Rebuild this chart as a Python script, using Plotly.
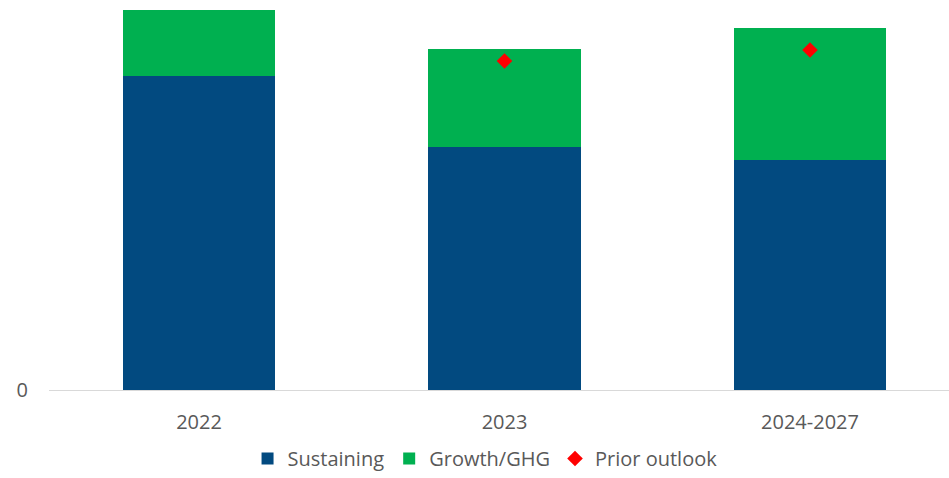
import plotly.graph_objects as go

categories = ["2022", "2023", "2024-2027"]
sustaining = [314, 243, 230]
growth_ghg = [66, 98, 132]
prior_outlook = [None, 329, 340]

xpos = [0, 1, 2]
font_family = "Open Sans"
grey = "#595959"

fig = go.Figure()
fig.add_trace(go.Bar(x=xpos, y=sustaining, name="Sustaining",
                     marker=dict(color="#024a80", line=dict(width=0)), width=0.5))
fig.add_trace(go.Bar(x=xpos, y=growth_ghg, name="Growth/GHG",
                     marker=dict(color="#00b050", line=dict(width=0)), width=0.5))
fig.add_trace(go.Scatter(x=xpos, y=prior_outlook, name="Prior outlook", mode="markers",
                         marker=dict(symbol="diamond", color="#ff0000", size=12)))

fig.update_layout(
    barmode="stack",
    width=949, height=478,
    margin=dict(l=49, r=0, t=0, b=88, autoexpand=False),
    plot_bgcolor="white", paper_bgcolor="white",
    font=dict(family=font_family, size=20, color=grey),
    showlegend=True,
    legend=dict(orientation="h", x=0.4845, xanchor="center",
                yref="container", y=-0.008, yanchor="bottom",
                font=dict(size=20, color=grey), itemwidth=30, traceorder="normal"),
    xaxis=dict(range=[-0.491, 2.455], tickvals=xpos, ticktext=categories,
               showgrid=False, zeroline=False, showline=False, ticks="",
               ticklabelstandoff=18),
    yaxis=dict(range=[0, 390], tickvals=[0], ticktext=["0"], showgrid=False,
               zeroline=True, zerolinecolor="#d9d9d9", zerolinewidth=1,
               showline=False, ticks="", ticklabelstandoff=20),
)

fig.write_html("out.html", config={"displayModeBar": False},
               post_script="document.body.style.margin='0';document.body.style.overflow='hidden';")
